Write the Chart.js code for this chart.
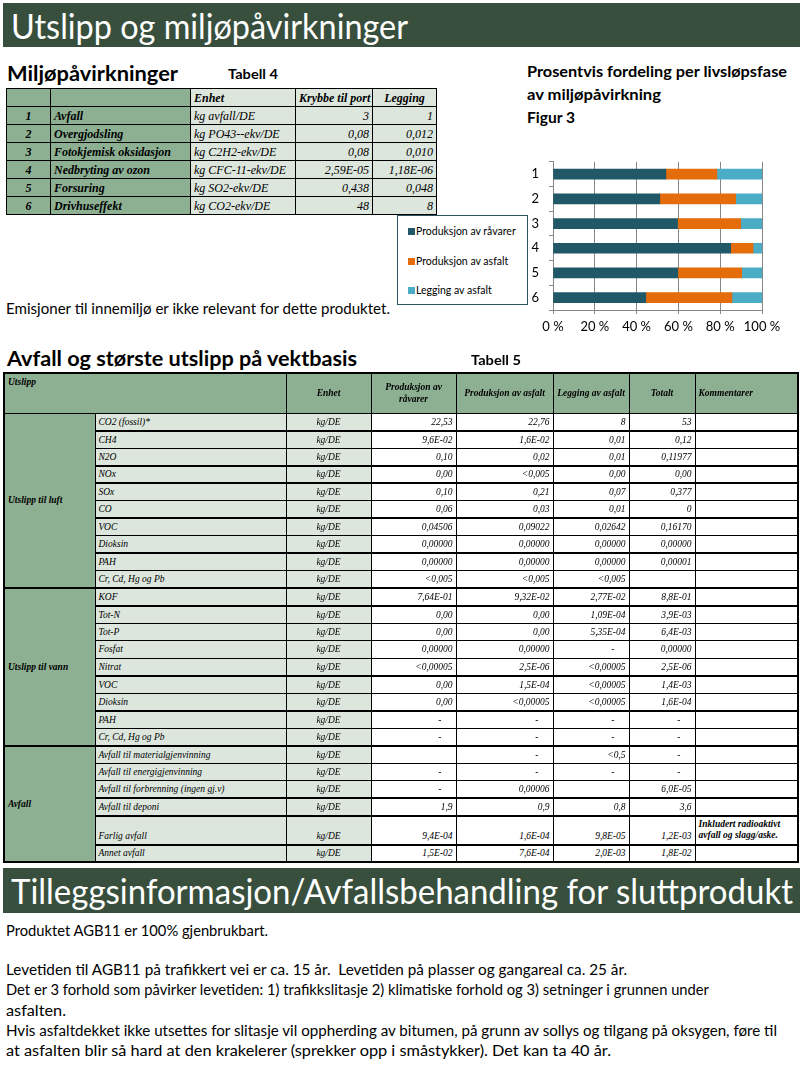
<!DOCTYPE html>
<html><head><meta charset="utf-8">
<script src="https://cdn.jsdelivr.net/npm/chart.js@4.4.1/dist/chart.umd.min.js"></script>
<style>
html,body{margin:0;padding:0;background:#fff;}
body{width:802px;height:1070px;position:relative;overflow:hidden;font-family:Lato,"Open Sans",sans-serif;color:#000;}
.abs{position:absolute;white-space:nowrap;}
.fit{display:inline-block;transform-origin:0 50%;white-space:nowrap;}
.band{position:absolute;left:3px;width:797px;background:#384f3d;color:#fff;overflow:hidden;}
.band .t{position:absolute;left:8px;top:0;font-size:35px;line-height:44px;white-space:nowrap;width:1200px;}
table{border-collapse:collapse;table-layout:fixed;position:absolute;font-family:"Liberation Serif","Times New Roman",serif;font-style:italic;}
td{border:1px solid #000;padding:0 3px;overflow:hidden;white-space:nowrap;box-sizing:border-box;}
#t4 td{font-size:12px;height:18px;line-height:16px;}
#t4 .g{background:#8db093;}
#t4 .l{background:#dce6dd;}
#t4 .b{font-weight:bold;}
#t4 .r{text-align:right;}
#t4 .c{text-align:center;}
#t5 td{font-size:9.5px;height:17.5px;line-height:12px;}
#t5 .h td{background:#8db093;font-weight:bold;height:40px;text-align:center;}
#t5 .grp{background:#8db093;font-weight:bold;}
#t5 .nm{background:#dce6dd;}
#t5 .un{background:#dce6dd;text-align:center;}
#t5 .v{text-align:right;}
#t5 .d{text-align:right;padding-right:14px;}
#t5 tr.thick td{border-bottom:2px solid #000;}
#legend{position:absolute;left:397px;top:215px;width:131px;height:90px;border:1px solid #2b5563;box-sizing:border-box;background:#fff;font-size:10.5px;}
#legend .it{position:absolute;left:10px;height:12px;line-height:12px;white-space:nowrap;}
#legend .sw{display:inline-block;width:7px;height:7px;margin-right:1px;vertical-align:0px;}
.body{position:absolute;left:6px;font-size:14.5px;line-height:20px;height:20px;white-space:nowrap;}
</style></head>
<body>
<script>
// ---------- Chart data (Figur 3) ----------
const categories = ['1', '2', '3', '4', '5', '6'];
const seriesNames = ['Produksjon av råvarer', 'Produksjon av asfalt', 'Legging av asfalt'];
const rawMaterialsPct = [54.0, 51.1, 59.6, 85.0, 59.7, 44.4];
const asphaltProductionPct = [24.4, 36.3, 30.2, 10.7, 30.6, 41.2];
const asphaltLayingPct = [21.6, 12.6, 10.2, 4.3, 9.7, 14.4];
const xTickValues = [0, 20, 40, 60, 80, 100];
const seriesColors = ['#215868', '#e46c0a', '#4bacc6'];

// ---------- Table 4 ----------
const t4Header = ['', '', 'Enhet', 'Krybbe til port', 'Legging'];
const t4Numbers = ['1', '2', '3', '4', '5', '6'];
const t4Names = ['Avfall', 'Overgjodsling', 'Fotokjemisk oksidasjon', 'Nedbryting av ozon', 'Forsuring', 'Drivhuseffekt'];
const t4Units = ['kg avfall/DE', 'kg PO43--ekv/DE', 'kg C2H2-ekv/DE', 'kg CFC-11-ekv/DE', 'kg SO2-ekv/DE', 'kg CO2-ekv/DE'];
const t4Cradle = ['3', '0,08', '0,08', '2,59E-05', '0,438', '48'];
const t4Laying = ['1', '0,012', '0,010', '1,18E-06', '0,048', '8'];

// ---------- Table 5 ----------
const t5Header = ['Utslipp', 'Enhet', 'Produksjon av<br>råvarer', 'Produksjon av asfalt', 'Legging av asfalt', 'Totalt', 'Kommentarer'];
const t5Groups = [
  {name: 'Utslipp til luft', rows: [
    ['CO2 (fossil)*', '22,53', '22,76', '8', '53', ''],
    ['CH4', '9,6E-02', '1,6E-02', '0,01', '0,12', ''],
    ['N2O', '0,10', '0,02', '0,01', '0,11977', ''],
    ['NOx', '0,00', '<0,005', '0,00', '0,00', ''],
    ['SOx', '0,10', '0,21', '0,07', '0,377', ''],
    ['CO', '0,06', '0,03', '0,01', '0', ''],
    ['VOC', '0,04506', '0,09022', '0,02642', '0,16170', ''],
    ['Dioksin', '0,00000', '0,00000', '0,00000', '0,00000', ''],
    ['PAH', '0,00000', '0,00000', '0,00000', '0,00001', ''],
    ['Cr, Cd, Hg og Pb', '<0,005', '<0,005', '<0,005', '', '']
  ]},
  {name: 'Utslipp til vann', rows: [
    ['KOF', '7,64E-01', '9,32E-02', '2,77E-02', '8,8E-01', ''],
    ['Tot-N', '0,00', '0,00', '1,09E-04', '3,9E-03', ''],
    ['Tot-P', '0,00', '0,00', '5,35E-04', '6,4E-03', ''],
    ['Fosfat', '0,00000', '0,00000', '-', '0,00000', ''],
    ['Nitrat', '<0,00005', '2,5E-06', '<0,00005', '2,5E-06', ''],
    ['VOC', '0,00', '1,5E-04', '<0,00005', '1,4E-03', ''],
    ['Dioksin', '0,00', '<0,00005', '<0,00005', '1,6E-04', ''],
    ['PAH', '-', '-', '-', '-', ''],
    ['Cr, Cd, Hg og Pb', '-', '-', '-', '-', '']
  ]},
  {name: 'Avfall', rows: [
    ['Avfall til materialgjenvinning', '', '-', '<0,5', '-', ''],
    ['Avfall til energigjenvinning', '-', '-', '-', '-', ''],
    ['Avfall til forbrenning (ingen gj.v)', '-', '0,00006', '', '6,0E-05', ''],
    ['Avfall til deponi', '1,9', '0,9', '0,8', '3,6', ''],
    ['Farlig avfall', '9,4E-04', '1,6E-04', '9,8E-05', '1,2E-03', 'Inkludert radioaktivt<br>avfall og slagg/aske.'],
    ['Annet avfall', '1,5E-02', '7,6E-04', '2,0E-03', '1,8E-02', '']
  ]}
];
const t5Thick = {'CO2 (fossil)*':1, 'N2O':1, 'NOx':1, 'CO':1, 'Dioksin':1, 'Cr, Cd, Hg og Pb':1, 'KOF':1, 'Nitrat':1, 'Avfall til forbrenning (ingen gj.v)':1, 'Avfall til deponi':1, 'Farlig avfall':1};
</script>

<div class="band" style="top:3px;height:44px;"><div class="t"><span class="fit" data-w="397">Utslipp og miljøpåvirkninger</span></div></div>

<div class="abs" style="left:7px;top:60px;height:26px;line-height:26px;font-size:21px;font-weight:bold;"><span class="fit" data-w="171">Miljøpåvirkninger</span></div>
<div class="abs" style="left:228px;top:65px;height:18px;line-height:18px;font-size:13px;font-weight:bold;"><span class="fit" data-w="50">Tabell 4</span></div>

<table id="t4" style="left:6px;top:88px;width:430px;">
<colgroup><col style="width:44px"><col style="width:140px"><col style="width:105px"><col style="width:77px"><col style="width:64px"></colgroup>
<tbody id="t4b"></tbody></table>

<div class="abs" style="left:527px;top:62px;height:20px;line-height:20px;font-size:14.5px;font-weight:bold;"><span class="fit" data-w="260">Prosentvis fordeling per livsløpsfase</span></div>
<div class="abs" style="left:527px;top:85px;height:20px;line-height:20px;font-size:14.5px;font-weight:bold;"><span class="fit" data-w="134">av miljøpåvirkning</span></div>
<div class="abs" style="left:527px;top:108px;height:20px;line-height:20px;font-size:14.5px;font-weight:bold;"><span class="fit" data-w="48">Figur 3</span></div>

<canvas id="fig3" width="282" height="198" style="position:absolute;left:520px;top:144px;width:282px;height:198px;"></canvas>
<div id="legend"></div>

<div class="abs" style="left:6px;top:299px;height:20px;line-height:20px;font-size:14.5px;"><span class="fit" data-w="384">Emisjoner til innemiljø er ikke relevant for dette produktet.</span></div>

<div class="abs" style="left:7px;top:345px;height:26px;line-height:26px;font-size:21px;font-weight:bold;"><span class="fit" data-w="350">Avfall og største utslipp på vektbasis</span></div>
<div class="abs" style="left:471px;top:351px;height:18px;line-height:18px;font-size:13px;font-weight:bold;"><span class="fit" data-w="50">Tabell 5</span></div>

<table id="t5" style="left:3px;top:372px;width:794px;border:2px solid #000;">
<colgroup><col style="width:91px"><col style="width:191px"><col style="width:85px"><col style="width:85px"><col style="width:97px"><col style="width:76px"><col style="width:66px"><col style="width:103px"></colgroup>
<tbody id="t5b"></tbody></table>

<div class="band" style="top:868px;height:45px;"><div class="t" style="line-height:45px;"><span class="fit" data-w="782">Tilleggsinformasjon/Avfallsbehandling for sluttprodukt</span></div></div>

<div class="body" style="top:921px;"><span class="fit" data-w="262">Produktet AGB11 er 100% gjenbrukbart.</span></div>
<div class="body" style="top:960px;"><span class="fit" data-w="621">Levetiden til AGB11 på trafikkert vei er ca. 15 år.&nbsp; Levetiden på plasser og gangareal ca. 25 år.</span></div>
<div class="body" style="top:980px;"><span class="fit" data-w="703">Det er 3 forhold som påvirker levetiden: 1) trafikkslitasje 2) klimatiske forhold og 3) setninger i grunnen under</span></div>
<div class="body" style="top:1001px;"><span class="fit" data-w="60">asfalten.</span></div>
<div class="body" style="top:1021px;"><span class="fit" data-w="771">Hvis asfaltdekket ikke utsettes for slitasje vil oppherding av bitumen, på grunn av sollys og tilgang på oksygen, føre til</span></div>
<div class="body" style="top:1041px;"><span class="fit" data-w="605">at asfalten blir så hard at den krakelerer (sprekker opp i småstykker). Det kan ta 40 år.</span></div>

<script>
// Build table 4
(function(){
  const tb = document.getElementById('t4b');
  let h = '<tr><td class="g"></td><td class="g"></td><td class="l b">' + t4Header[2] + '</td><td class="l b c">' + t4Header[3] + '</td><td class="l b c">' + t4Header[4] + '</td></tr>';
  for (let i = 0; i < t4Names.length; i++) {
    h += '<tr><td class="g b c">' + t4Numbers[i] + '</td><td class="g b">' + t4Names[i] + '</td><td class="l">' + t4Units[i] +
         '</td><td class="l r">' + t4Cradle[i] + '</td><td class="l r">' + t4Laying[i] + '</td></tr>';
  }
  tb.innerHTML = h;
})();
// Build table 5
(function(){
  const tb = document.getElementById('t5b');
  const esc = s => s.replace(/</g, '&lt;');
  let h = '<tr class="h"><td colspan="2" style="text-align:left;vertical-align:top;padding-top:2px;">' + t5Header[0] + '</td>';
  for (let i = 1; i < t5Header.length; i++) {
    h += '<td' + (i === 6 ? ' style="text-align:left"' : '') + '>' + t5Header[i] + '</td>';
  }
  h += '</tr>';
  t5Groups.forEach(g => {
    g.rows.forEach((r, ri) => {
      const tall = r[0] === 'Farlig avfall';
      const vb = tall ? ' style="vertical-align:bottom;padding-bottom:2px"' : '';
      h += '<tr' + (t5Thick[r[0]] ? ' class="thick"' : '') + (tall ? ' style="height:29px"' : '') + '>';
      if (ri === 0) h += '<td class="grp" rowspan="' + g.rows.length + '">' + g.name + '</td>';
      h += '<td class="nm"' + (tall ? ' style="vertical-align:bottom;padding-bottom:2px;height:29px"' : '') + '>' + r[0] + '</td><td class="un"' + vb + '>kg/DE</td>';
      for (let k = 1; k <= 4; k++) {
        const v = r[k];
        const cls = v === '-' ? 'd' : 'v';
        h += '<td class="' + cls + '"' + vb + '>' + esc(v) + '</td>';
      }
      h += '<td style="white-space:normal;font-weight:bold;line-height:11px;">' + r[5] + '</td></tr>';
    });
  });
  tb.innerHTML = h;
})();
// Legend
(function(){
  const lg = document.getElementById('legend');
  const tops = [9, 39, 68];
  lg.innerHTML = seriesNames.map((n, i) =>
    '<div class="it" style="top:' + tops[i] + 'px"><span class="sw" style="background:' + seriesColors[i] + '"></span>' + n + '</div>').join('');
})();

function fitAll(){
  document.querySelectorAll('.fit').forEach(el => {
    el.style.transform = '';
    const w = el.getBoundingClientRect().width;
    const t = +el.dataset.w;
    if (w > 0 && t) el.style.transform = 'scaleX(' + (t / w) + ')';
  });
}
fitAll();
if (document.fonts && document.fonts.ready) document.fonts.ready.then(fitAll);

// Chart
const chartFont = {family: 'Lato, "Open Sans", sans-serif', size: 13};
new Chart(document.getElementById('fig3'), {
  type: 'bar',
  data: {
    labels: categories,
    datasets: [
      {label: seriesNames[0], data: rawMaterialsPct, backgroundColor: seriesColors[0]},
      {label: seriesNames[1], data: asphaltProductionPct, backgroundColor: seriesColors[1]},
      {label: seriesNames[2], data: asphaltLayingPct, backgroundColor: seriesColors[2]}
    ]
  },
  options: {
    indexAxis: 'y',
    responsive: false,
    animation: false,
    devicePixelRatio: 1,
    layout: {padding: {left: 0, right: 40, top: 0, bottom: 0}},
    datasets: {bar: {barThickness: 10}},
    plugins: {legend: {display: false}, tooltip: {enabled: false}},
    scales: {
      x: {
        stacked: true, min: 0, max: 100,
        afterBuildTicks: s => { s.ticks = xTickValues.map(v => ({value: v})); },
        ticks: {callback: v => v + ' %', color: '#000', font: chartFont, padding: 5, maxRotation: 0},
        grid: {color: '#868686', tickLength: 4, drawTicks: true},
        border: {display: true, color: '#868686'},
        afterFit: s => { s.height = 32; }
      },
      y: {
        stacked: true,
        ticks: {color: '#000', font: chartFont, padding: 10},
        grid: {drawOnChartArea: false, color: '#868686', tickLength: 4, offset: true},
        border: {display: true, color: '#868686'},
        afterFit: s => { s.width = 33; }
      }
    }
  }
});
</script>
</body></html>
